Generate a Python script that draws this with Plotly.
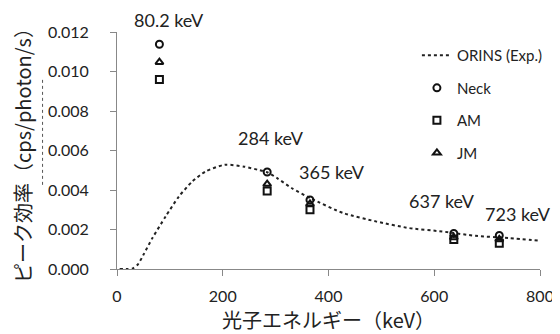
import plotly.graph_objects as go

# ORINS experimental curve (keV, peak efficiency)
orins_e = [5, 20, 30, 40, 50, 67, 92, 117, 142, 167, 204, 241, 270, 284, 303, 330, 366, 428, 491, 553, 615, 678, 740, 800]
orins_eff = [0.0, 0.0, 0.00003, 0.00025, 0.00072, 0.00157, 0.00266, 0.00367, 0.00442, 0.00493, 0.00528, 0.00518,
             0.00500, 0.00490, 0.00460, 0.00410, 0.00358, 0.00283, 0.0024, 0.00207, 0.0019, 0.00168,
             0.00157, 0.00143]

energies = [80.2, 284, 365, 637, 723]
neck = [0.01138, 0.00491, 0.00350, 0.00180, 0.00170]
am = [0.00960, 0.00395, 0.00300, 0.00150, 0.00130]
jm = [0.01047, 0.00430, 0.00330, 0.00160, 0.00150]

labels = ["80.2 keV", "284 keV", "365 keV", "637 keV", "723 keV"]
label_x = [98, 291, 406, 614, 758]
label_y = [0.0126, 0.00663, 0.00491, 0.00345, 0.0028]

font_main = "Lato, 'Noto Sans CJK JP', sans-serif"
font_jp = "'Noto Sans CJK JP', sans-serif"

fig = go.Figure()
fig.add_trace(go.Scatter(x=orins_e, y=orins_eff, mode="lines", name="ORINS (Exp.)", legendgroup="a",
                         line=dict(color="#222", width=2, dash="dot", shape="spline", smoothing=0.6)))
mk = dict(color="#111", size=7, line=dict(color="#111", width=2))
fig.add_trace(go.Scatter(x=energies, y=neck, mode="markers", name="Neck", legendgroup="b",
                         marker=dict(symbol="circle-open", **mk)))
fig.add_trace(go.Scatter(x=energies, y=am, mode="markers", name="AM", legendgroup="c",
                         marker=dict(symbol="square-open", **mk)))
fig.add_trace(go.Scatter(x=energies, y=jm, mode="markers", name="JM", legendgroup="d",
                         marker=dict(symbol="triangle-up-open", **mk)))

for t, x, y in zip(labels, label_x, label_y):
    if y > 0.012:
        fig.add_annotation(x=x, y=1.05, text=t, showarrow=False, xref="x", yref="paper",
                           xanchor="center", yanchor="middle",
                           font=dict(size=18, color="#222", family=font_main))
    else:
        fig.add_annotation(x=x, y=y, text=t, showarrow=False, xref="x", yref="y",
                           xanchor="center", yanchor="middle",
                           font=dict(size=18, color="#222", family=font_main))

fig.add_shape(type="line", xref="paper", yref="paper", x0=-0.176, x1=-0.176, y0=0.355, y1=0.8,
              line=dict(color="#555", width=1, dash="dot"))

# the page body has an 8px default margin, so the figure is laid out 8px smaller/offset
fig.update_layout(
    width=552, height=326,
    margin=dict(l=109, r=14, t=24, b=65),
    plot_bgcolor="white", paper_bgcolor="white",
    font=dict(family=font_main, size=13, color="#222"),
    showlegend=True,
    legend=dict(x=0.709, y=0.97, xanchor="left", yanchor="top", bgcolor="rgba(0,0,0,0)",
                font=dict(size=15, color="#222"), tracegroupgap=10, itemwidth=30),
    xaxis=dict(range=[0, 800], tickvals=[0, 200, 400, 600, 800], showgrid=False, zeroline=False,
               showline=True, linecolor="#888", linewidth=1, ticks="outside", ticklen=6, tickcolor="#888",
               ticklabelstandoff=7, tickfont=dict(size=16), automargin=False,
               title=dict(text="光子エネルギー（keV）", font=dict(size=20, family=font_jp), standoff=6)),
    yaxis=dict(range=[0, 0.012], tickvals=[0, 0.002, 0.004, 0.006, 0.008, 0.01, 0.012],
               tickformat=".3f", showgrid=False, zeroline=False, automargin=False,
               showline=True, linecolor="#888", linewidth=1, ticks="outside", ticklen=6, tickcolor="#888",
               ticklabelstandoff=18, tickfont=dict(size=16),
               title=dict(text="ピーク効率（cps/photon/s）", font=dict(size=20, family=font_jp), standoff=18)),
)

fig.write_html("out.html")
